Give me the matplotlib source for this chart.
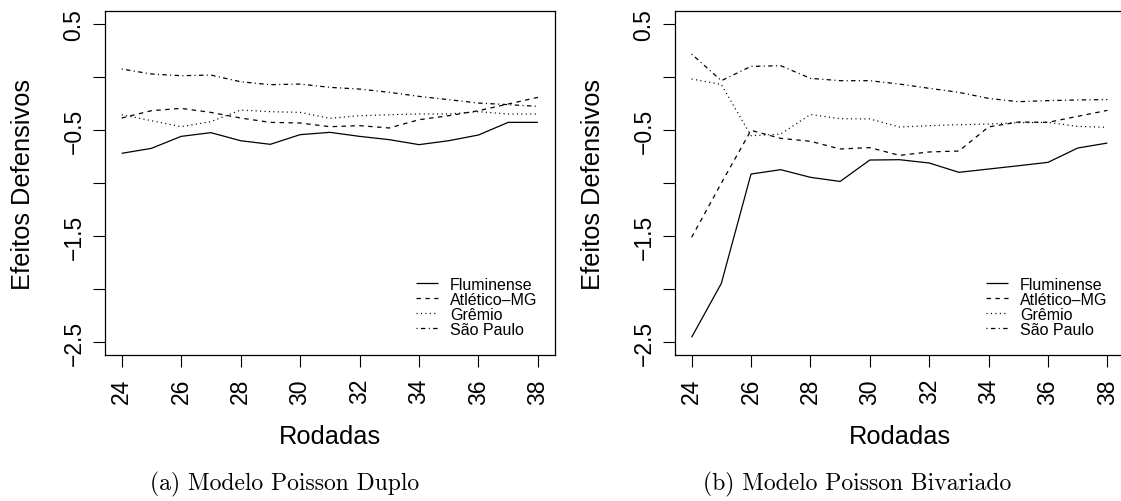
import matplotlib
matplotlib.use("Agg")
import matplotlib.pyplot as plt

# Rounds of the championship (x axis)
rodadas = [24, 25, 26, 27, 28, 29, 30, 31, 32, 33, 34, 35, 36, 37, 38]
x_ticks = [24, 26, 28, 30, 32, 34, 36, 38]
x_tick_labels = ["24", "26", "28", "30", "32", "34", "36", "38"]
y_ticks = [0.5, 0.0, -0.5, -1.0, -1.5, -2.0, -2.5]
y_tick_labels = ["0.5", "", "\u22120.5", "", "\u22121.5", "", "\u22122.5"]

teams = ["Fluminense", "Atlético\u2013MG", "Grêmio", "São Paulo"]

# (a) Double Poisson model - defensive effects
duplo_fluminense = [-0.719, -0.672, -0.559, -0.524, -0.600, -0.634, -0.543, -0.521,
                    -0.559, -0.590, -0.637, -0.600, -0.546, -0.427, -0.427]
duplo_atletico = [-0.386, -0.317, -0.295, -0.333, -0.386, -0.427, -0.433, -0.468,
                  -0.458, -0.480, -0.402, -0.364, -0.317, -0.254, -0.191]
duplo_gremio = [-0.355, -0.411, -0.468, -0.420, -0.311, -0.326, -0.333, -0.389,
                -0.364, -0.355, -0.348, -0.348, -0.326, -0.348, -0.348]
duplo_saopaulo = [0.076, 0.029, 0.013, 0.019, -0.044, -0.072, -0.066, -0.097,
                  -0.113, -0.144, -0.182, -0.213, -0.245, -0.260, -0.276]

# (b) Bivariate Poisson model - defensive effects
biv_fluminense = [-2.453, -1.945, -0.914, -0.873, -0.945, -0.984, -0.782, -0.779,
                  -0.810, -0.898, -0.867, -0.836, -0.804, -0.669, -0.622]
biv_atletico = [-1.511, -1.000, -0.502, -0.578, -0.605, -0.678, -0.665, -0.738,
                -0.706, -0.697, -0.470, -0.424, -0.427, -0.370, -0.314]
biv_gremio = [-0.018, -0.070, -0.553, -0.537, -0.353, -0.392, -0.395, -0.471,
              -0.458, -0.449, -0.443, -0.430, -0.427, -0.465, -0.474]
biv_saopaulo = [0.217, -0.034, 0.101, 0.107, -0.012, -0.034, -0.034, -0.066,
                -0.106, -0.144, -0.201, -0.232, -0.222, -0.216, -0.212]

captions = ["(a) Modelo Poisson Duplo", "(b) Modelo Poisson Bivariado"]
x_label = "Rodadas"
y_label = "Efeitos Defensivos"

plt.rcParams["font.family"] = ["Liberation Sans", "DejaVu Sans"]
plt.rcParams["lines.scale_dashes"] = False
plt.rcParams["axes.unicode_minus"] = True

LW = 0.9
styles = [
    dict(linestyle="-"),
    dict(linestyle=(0, (3.2, 3.2))),
    dict(linestyle=(0, (0.8, 2.4))),
    dict(linestyle=(0, (0.8, 2.4, 3.2, 2.4))),
]

W, H = 1121, 502
fig = plt.figure(figsize=(W / 100, H / 100), dpi=100)

# axes boxes in pixels: (left, top, right, bottom)
boxes = [(105, 12.3, 554.6, 356.0), (675, 12.3, 1124.0, 356.0)]
panels = [
    [duplo_fluminense, duplo_atletico, duplo_gremio, duplo_saopaulo],
    [biv_fluminense, biv_atletico, biv_gremio, biv_saopaulo],
]
caption_x = [285, 857]

for (l, t, r, b), series, cap, cx in zip(boxes, panels, captions, caption_x):
    ax = fig.add_axes([l / W, 1 - b / H, (r - l) / W, (b - t) / H])
    for vals, st, name in zip(series, styles, teams):
        ax.plot(rodadas, vals, color="black", linewidth=LW,
                dash_capstyle="butt", solid_capstyle="butt", label=name, **st)
    ax.set_xlim(23.44, 38.56)
    ax.set_ylim(-2.62, 0.62)
    ax.set_xticks(x_ticks)
    ax.set_xticklabels(x_tick_labels, rotation=90, fontsize=16.5)
    ax.set_yticks(y_ticks)
    ax.set_yticklabels(y_tick_labels, rotation=90, va="center", fontsize=16.5)
    ax.tick_params(axis="both", direction="out", length=8.6, width=0.8,
                   color="black")
    ax.tick_params(axis="x", pad=8.0)
    ax.tick_params(axis="y", pad=5.5)
    for sp in ax.spines.values():
        sp.set_linewidth(0.9)

    # axis titles placed relative to the plotting box
    ax.set_xlabel(x_label, fontsize=18.3)
    ax.xaxis.label.set_va("center")
    ax.xaxis.set_label_coords(0.5, (b - 437) / (b - t))
    ax.set_ylabel(y_label, fontsize=18.3)
    ax.yaxis.label.set_va("center")
    ax.yaxis.set_label_coords(-82 / (r - l), 0.5)

    ax.legend(loc="center left", bbox_to_anchor=(311 / (r - l), (b - 308) / (b - t)),
              frameon=False, fontsize=11.5, handlelength=1.375, handletextpad=0.75,
              borderpad=0, borderaxespad=0, labelspacing=0.0)

    # sub-figure caption
    fig.text(cx / W, 1 - 484 / H, cap, ha="center", va="center",
             fontsize=17, family="cmr10")

fig.savefig("out.png", dpi=100)
